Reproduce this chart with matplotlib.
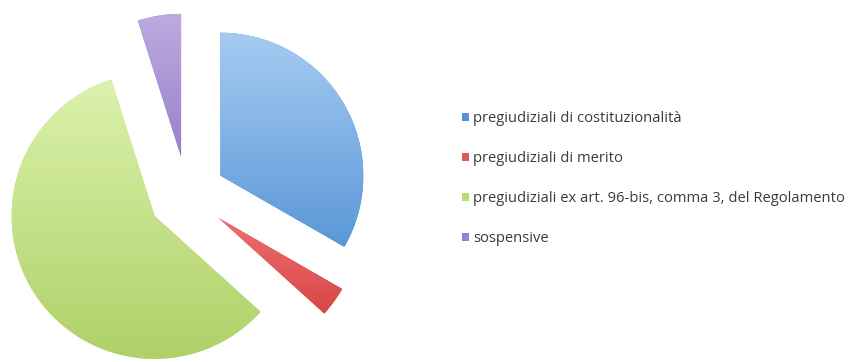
import numpy as np
import matplotlib
matplotlib.use("Agg")
import matplotlib.pyplot as plt
from matplotlib.colors import LinearSegmentedColormap

labels = ["pregiudiziali di costituzionalità",
          "pregiudiziali di merito",
          "pregiudiziali ex art. 96-bis, comma 3, del Regolamento",
          "sospensive"]
values = [33.3, 3.4, 58.4, 4.9]

legend_colors = ["#5593d8", "#e05a56", "#b9da78", "#9484cc"]
grad_top = ["#a6cbf2", "#ee7070", "#dbf2ad", "#bcaadf"]
grad_bottom = ["#5a97d8", "#d84646", "#afd168", "#9882cc"]

fig = plt.figure(figsize=(8.52, 3.62), dpi=100)
ax = fig.add_axes([0, 0, 380 / 852, 1])

wedges, _ = ax.pie(values, colors=legend_colors, startangle=90,
                   counterclock=False, explode=[0.27] * 4, radius=1.0,
                   wedgeprops=dict(linewidth=0))

grad = np.linspace(0, 1, 256).reshape(-1, 1)
for w, top, bot in zip(wedges, grad_top, grad_bottom):
    cmap = LinearSegmentedColormap.from_list("g", [top, bot])
    ext = w.get_path().get_extents()
    im = ax.imshow(grad, cmap=cmap, aspect="auto", origin="upper",
                   extent=[ext.x0, ext.x1, ext.y0, ext.y1], zorder=3,
                   interpolation="bilinear")
    im.set_clip_path(w)

ax.set_xlim(-1.308, 1.350)
ax.set_ylim(-1.168, 1.364)
ax.set_aspect("auto")
ax.axis("off")

leg = fig.legend(wedges, labels, loc="upper left",
                 bbox_to_anchor=(449 / 852, 1 - 98 / 362),
                 frameon=False, handlelength=0.45, handleheight=0.45,
                 handletextpad=0.3, labelspacing=1.69,
                 prop=dict(family="Open Sans", size=10.6))
for t in leg.get_texts():
    t.set_color("#3a3a3a")
for h, c in zip(leg.legend_handles, legend_colors):
    h.set_facecolor(c)

fig.savefig("out.png", dpi=100)
